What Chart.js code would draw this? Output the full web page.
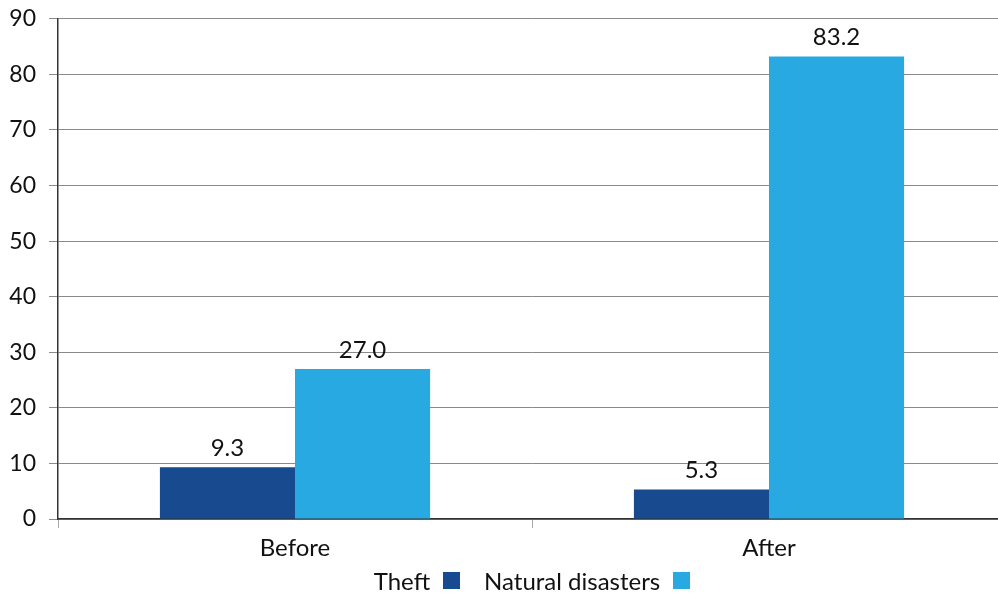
<!DOCTYPE html>
<html>
<head>
<meta charset="utf-8">
<script src="https://cdn.jsdelivr.net/npm/chart.js@4"></script>
<style>
  html, body { margin: 0; padding: 0; background: #fff; overflow: hidden; }
  #wrap { position: relative; width: 1006px; height: 597px; }
  #chart { position: absolute; left: 0; top: -8px; }
  #legend {
    position: absolute; left: 0; top: 566px; width: 1064px;
    display: flex; justify-content: center; align-items: center;
    font: 24px Lato, sans-serif; color: #111;
  }
  .item { display: flex; align-items: center; margin: 0 12px; }
  .box { width: 17px; height: 17px; margin-left: 13px; }
</style>
</head>
<body>
<div id="wrap">
  <canvas id="chart" width="1006" height="605"></canvas>
  <div id="legend"></div>
</div>
<script>
const categories = ['Before', 'After'];
const seriesNames = ['Theft', 'Natural disasters'];
const theft = [9.3, 5.3];
const naturalDisasters = [27.0, 83.2];
const seriesColors = ['#174a8e', '#29a9e1'];

const fontFamily = 'Lato, sans-serif';

// value labels above each bar
const valueLabels = {
  id: 'valueLabels',
  afterDatasetsDraw(chart) {
    const ctx = chart.ctx;
    ctx.save();
    ctx.font = '24px ' + fontFamily;
    ctx.fillStyle = '#111';
    ctx.textAlign = 'center';
    ctx.textBaseline = 'bottom';
    chart.data.datasets.forEach((ds, i) => {
      chart.getDatasetMeta(i).data.forEach((bar, j) => {
        ctx.fillText(ds.data[j].toFixed(1), bar.x, bar.y - 7);
      });
    });
    ctx.restore();
  }
};

const chart = new Chart(document.getElementById('chart'), {
  type: 'bar',
  data: {
    labels: categories,
    datasets: [{
      label: seriesNames[0],
      data: theft,
      backgroundColor: seriesColors[0]
    }, {
      label: seriesNames[1],
      data: naturalDisasters,
      backgroundColor: seriesColors[1]
    }]
  },
  options: {
    responsive: false,
    animation: false,
    categoryPercentage: 0.57,
    barPercentage: 1,
    layout: { padding: { top: 6, right: 0, left: 0, bottom: 0 } },
    plugins: {
      legend: { display: false },
      tooltip: { enabled: false }
    },
    scales: {
      x: {
        grid: {
          offset: true,
          drawOnChartArea: false,
          drawTicks: true,
          tickLength: 9,
          color: '#aaa'
        },
        border: { color: '#333', width: 1.5 },
        ticks: {
          color: '#111',
          padding: 6,
          font: { family: fontFamily, size: 24 }
        },
        afterFit(scale) { scale.height = 78; }
      },
      y: {
        min: 0,
        max: 90,
        ticks: {
          stepSize: 10,
          color: '#111',
          padding: 13,
          font: { family: fontFamily, size: 23 }
        },
        grid: {
          color: '#8a8a8a',
          lineWidth: 1,
          tickLength: 9
        },
        border: { color: '#333', width: 1.5 },
        afterFit(scale) { scale.width = 58; }
      }
    }
  },
  plugins: [valueLabels]
});

// legend: label first, colour swatch after it
const legend = document.getElementById('legend');
chart.data.datasets.forEach(ds => {
  const item = document.createElement('div');
  item.className = 'item';
  const text = document.createElement('span');
  text.textContent = ds.label;
  const box = document.createElement('span');
  box.className = 'box';
  box.style.background = ds.backgroundColor;
  item.appendChild(text);
  item.appendChild(box);
  legend.appendChild(item);
});
</script>
</body>
</html>
